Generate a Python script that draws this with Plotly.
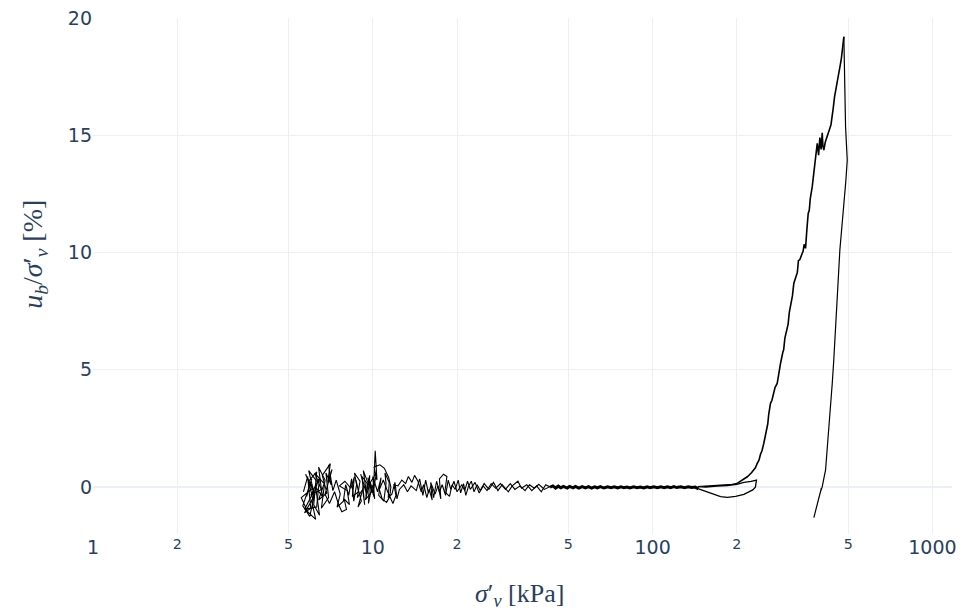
import plotly.graph_objects as go

# Effective vertical stress sigma'_v [kPa] and pore pressure ratio u_b/sigma'_v [%]
# Noisy low-stress part, first pass
sig_noise = [5.95, 5.80, 6.05, 5.62, 5.95, 6.20, 5.75, 6.10, 5.55, 5.85, 6.25, 6.05, 6.35, 5.90, 6.15,
             5.70, 6.30, 6.45, 6.00, 6.55, 6.20, 6.70, 6.40, 6.85, 6.60, 7.05, 6.90, 7.15, 6.75, 7.00,
             7.30, 7.55, 7.75, 8.05, 7.90, 8.25, 8.10, 7.60, 7.95, 8.35,
             8.60, 8.45, 8.90, 8.70, 9.10, 8.85, 9.30, 9.05, 9.50, 9.25, 9.70, 9.40, 9.90, 9.60, 10.10,
             9.80, 10.30, 10.05, 10.20, 10.35, 10.10,
             10.60, 11.00, 11.40, 11.60, 11.50, 11.20, 10.80, 10.55, 10.90, 11.30, 11.80, 12.10, 11.90, 12.30,
             12.70, 13.10, 13.40, 13.80, 14.10, 14.50,
             14.90, 15.20, 15.60, 15.90, 16.30, 16.10, 16.70, 17.10, 17.50, 17.30, 17.90, 18.40, 18.10, 18.80, 19.20,
             19.70, 20.20, 20.60, 21.10, 21.50, 22.00, 22.50, 23.00, 23.60, 24.20,
             25.0, 26.0, 27.0, 28.0, 29.0, 30.5, 31.5, 33.0, 34.0, 35.5, 37.0, 38.5, 40.0, 41.5, 43.0]
u_noise = [0.05, -0.40, 0.35, -0.80, -1.25, -0.30, 0.55, -0.05, -0.45, -1.05, -1.38, -0.60, 0.20, 0.70, -0.20,
           -0.95, -0.85, 0.40, -0.35, -0.10, 0.60, 0.15, -0.55, -0.25, 0.50, 1.00, 0.20, 0.75, -0.30, -0.70,
           -0.20, -0.75, -1.05, -0.95, -0.50, -0.75, -0.15, 0.05, 0.25, -0.05,
           0.45, -0.40, -0.20, 0.30, -0.60, -0.85, 0.10, 0.55, -0.30, 0.70, 0.05, -0.55, -0.20, 0.40, -0.40,
           0.20, 0.60, -0.15, 1.55, 0.30, 0.85,
           0.95, 0.80, 0.40, 0.00, -0.40, -0.65, -0.50, -0.10, 0.30, -0.20, -0.70, -0.35, 0.10, 0.05,
           0.30, 0.15, 0.45, 0.20, 0.50, 0.25,
           -0.20, 0.10, -0.45, -0.10, -0.55, 0.20, -0.30, 0.05, -0.50, 0.35, 0.55, 0.45, -0.20, -0.40, 0.10,
           -0.10, 0.30, -0.25, 0.15, -0.35, 0.05, 0.25, -0.20, 0.10, -0.15,
           0.15, -0.10, 0.20, -0.15, 0.10, -0.20, 0.05, 0.25, -0.05, 0.10, -0.15, 0.05, -0.20, 0.10, 0.00]

# Noisy low-stress part, second pass
sig_noise2 = [5.65, 5.85, 6.00, 5.70, 6.10, 5.90, 6.30, 6.15, 6.45, 6.25, 6.60, 6.40, 6.75, 6.55, 6.95,
              6.80, 7.10, 6.95, 7.20,
              7.40, 7.65, 7.45, 7.85, 8.00, 8.20, 8.40,
              8.55, 8.75, 8.60, 9.00, 8.80, 9.20, 9.35, 9.15, 9.55, 9.45, 9.75, 9.65, 9.95, 10.15, 10.00, 10.40,
              10.70, 10.50, 10.95, 11.15, 11.05, 11.45, 11.35, 11.70, 12.00, 12.20, 12.45,
              12.90, 13.30, 13.70, 14.30, 14.70, 15.10, 15.45, 15.80, 16.20, 16.50, 16.90, 17.30, 17.70, 18.20,
              18.60, 19.00, 19.50,
              20.0, 20.8, 21.3, 21.8, 22.3, 23.2, 24.0, 24.8, 25.6, 26.5, 27.5, 28.6, 29.8, 31.0, 32.2, 33.6,
              35.0, 36.3, 37.8, 39.2, 41.0, 43.0]
u_noise2 = [-0.20, 0.45, -0.90, -1.10, -0.50, 0.25, 0.65, -0.75, -1.20, 0.00, -0.40, 0.85, 0.30, -0.90, -0.45,
            0.60, 0.10, 0.95, -0.15,
            0.30, -0.30, -0.85, -0.60, 0.10, -0.35, 0.35,
            -0.60, 0.10, 0.60, 0.25, -0.45, -0.10, -0.75, 0.45, 0.15, -0.40, 0.50, -0.70, 0.10, -0.50, 0.45, -0.20,
            0.40, -0.35, -0.60, 0.15, 0.60, 0.20, -0.45, -0.30, 0.20, -0.50, -0.10,
            0.10, -0.20, 0.05, -0.15, 0.35, -0.35, 0.30, -0.25, 0.10, -0.45, 0.25, -0.20, 0.10, -0.35,
            0.30, -0.10, 0.25,
            -0.20, 0.10, -0.15, 0.25, -0.10, 0.20, -0.25, 0.05, -0.15, 0.15, -0.05, 0.15, -0.10, 0.15, -0.10, 0.05,
            -0.15, 0.10, -0.05, 0.12, -0.10, 0.02]

# Dense, fine-noise band
sig_band = [43, 44, 45, 46, 47, 48, 49.5, 50.5, 52, 53, 54.5, 56, 57.5, 59, 60.5, 62, 63.5, 65, 67, 69, 71,
            73, 75, 77, 79, 81, 83, 85.5, 88, 90.5, 93, 95.5, 98, 101, 104, 107, 110, 113, 116, 119, 122,
            126, 130, 134, 138, 142, 146]
u_band = [0.00, 0.05, -0.04, 0.04, -0.03, 0.03, -0.04, 0.03, -0.03, 0.03, -0.04, 0.02, -0.03, 0.02, -0.04, 0.01,
          -0.03, 0.02, -0.04, 0.01, -0.03, 0.01, -0.04, 0.01, -0.03, 0.00, -0.04, 0.01, -0.03, 0.00, -0.04,
          0.01, -0.03, 0.01, -0.03, 0.01, -0.03, 0.01, -0.03, 0.02, -0.02, 0.01, -0.03, 0.01, -0.02, 0.00, -0.08]

# Small loop near 200 kPa
sig_loop = [146, 155, 165, 175, 185, 198, 212, 222, 228, 233, 235, 225, 212, 200,
            185, 170, 155, 145, 160, 178, 192, 200.5]
u_loop = [-0.08, -0.18, -0.28, -0.41, -0.44, -0.40, -0.31, -0.20, -0.12, 0.00, 0.30, 0.24, 0.20, 0.12,
          0.06, 0.04, 0.00, 0.02, 0.05, 0.08, 0.12, 0.16]

# Rise to the peak
sig_rise = [200.5, 210, 218, 226, 233, 236.5, 240, 243, 246, 249.7, 255, 258, 260, 263.8, 267, 270, 274,
            278.8, 283, 286.5, 292, 294, 297, 302.7, 305, 308, 314, 316, 319.7, 326, 329, 332, 336, 342.5,
            345, 348, 352, 356, 359.8, 363, 366, 372, 377, 380, 382.2, 385, 387.6, 392, 396, 400, 403.8,
            406, 409.2, 414, 420.9, 425, 430, 434, 438.5, 442, 446.9, 452, 457, 463, 466, 469.6, 473, 476,
            479, 482.5]
u_rise = [0.16, 0.30, 0.44, 0.62, 0.82, 1.01, 1.15, 1.40, 1.55, 1.87, 2.45, 2.70, 3.10, 3.57, 3.70, 3.95, 4.25,
          4.42, 4.95, 5.27, 5.75, 5.85, 6.35, 6.84, 6.95, 7.45, 7.95, 8.15, 8.69, 9.05, 9.15, 9.65, 9.70, 9.97,
          10.05, 10.35, 10.18, 11.00, 11.67, 11.80, 12.30, 12.81, 13.45, 13.55, 13.94, 14.25, 14.66, 14.15,
          14.90, 14.40, 15.11, 14.55, 14.37, 14.70, 14.94, 15.05, 15.30, 15.45, 15.79, 16.15, 16.64, 16.95,
          17.22, 17.65, 17.70, 18.07, 18.30, 18.55, 18.75, 19.20]

# Unloading branch
sig_down = [482.5, 484, 486, 489.3, 493, 496.2, 490, 482.5, 475, 466.9, 458, 450.6, 444, 438.5, 432, 426.4,
            420, 415, 409, 403.8, 398, 401, 394, 398, 390, 394, 386, 390, 382, 386, 379, 383, 377, 381, 376.9]
u_down = [19.20, 18.20, 16.50, 15.36, 14.60, 13.94, 13.00, 11.95, 11.00, 10.11, 8.30, 6.55, 5.40, 4.42, 3.40,
          2.57, 1.60, 0.72, 0.35, 0.01, -0.20, -0.05, -0.40, -0.25, -0.60, -0.45, -0.80, -0.70, -1.00, -0.90,
          -1.15, -1.05, -1.27, -1.10, -1.30]

fig = go.Figure()
segments = [
    (sig_noise, u_noise, 1.1),
    (sig_noise2, u_noise2, 1.1),
    (sig_band, u_band, 3.0),
    (sig_loop, u_loop, 1.3),
    (sig_rise, u_rise, 1.6),
    (sig_down, u_down, 1.2),
]
for xs, ys, w in segments:
    fig.add_trace(go.Scatter(x=xs, y=ys, mode="lines",
                             line=dict(color="black", width=w), showlegend=False))

tick_font = dict(family="DejaVu Sans, Verdana, sans-serif", size=19, color="#2a3f5f")
xtitle_font = dict(family="Liberation Serif, Times New Roman, serif", size=26, color="#2a3f5f")
ytitle_font = dict(family="Liberation Serif, Times New Roman, serif", size=28, color="#2a3f5f")

fig.update_layout(
    template="plotly_white",
    width=962, height=612,
    margin=dict(l=93, r=10, t=18, b=78, autoexpand=False),
    font=tick_font,
    xaxis=dict(type="log", range=[0, 3.07], dtick="D2", tickfont=tick_font, automargin=False),
    yaxis=dict(range=[-2, 20], dtick=5, tickfont=tick_font, automargin=False),
    annotations=[
        dict(text="<i>σ</i>′<sub><i>v</i></sub> [kPa]", xref="paper", yref="paper",
             x=0.497, y=-0.118, xanchor="center", yanchor="middle", showarrow=False, font=xtitle_font),
        dict(text="<i>u</i><sub><i>b</i></sub>/<i>σ</i>′<sub><i>v</i></sub> [%]", xref="paper", yref="paper",
             x=-0.0675, y=0.541, xanchor="center", yanchor="middle", showarrow=False,
             textangle=-90, font=ytitle_font),
    ],
)

fig.write_html("out.html", config={"displayModeBar": False},
               post_script="document.body.style.margin='0';")
